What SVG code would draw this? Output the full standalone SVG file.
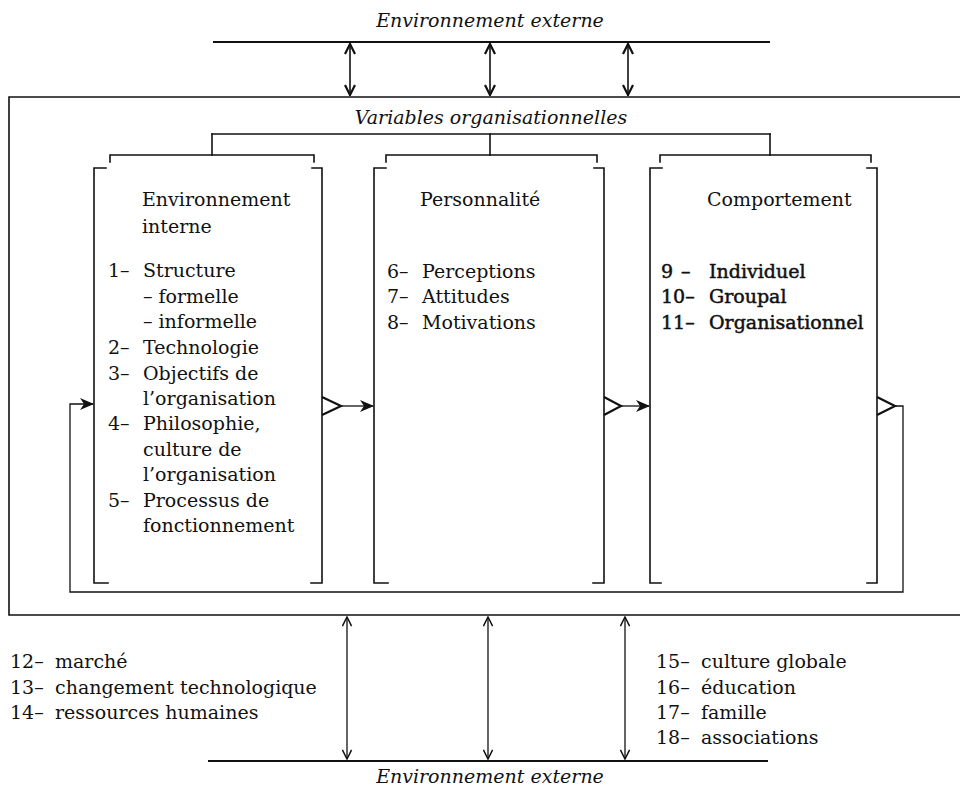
<svg xmlns="http://www.w3.org/2000/svg" width="960" height="786" viewBox="0 0 960 786">
<defs>
<style>
.ln{stroke:#111;stroke-width:1.6;fill:none;stroke-linecap:square}
.thk{stroke:#111;stroke-width:2.2;fill:none}
.thin{stroke:#111;stroke-width:1.3;fill:none}
.t{font-family:"DejaVu Serif","Liberation Serif",serif;font-size:19px;fill:#111}
.tb{font-family:"DejaVu Serif","Liberation Serif",serif;font-size:19px;fill:#111;stroke:#111;stroke-width:0.5}
.s{font-family:"DejaVu Serif","Liberation Serif",serif;font-size:19px;fill:#111}
.it{font-family:"DejaVu Serif","Liberation Serif",serif;font-size:19px;font-style:italic;fill:#111}
</style>
<marker id="ah" viewBox="0 0 12 12" refX="11" refY="6" markerWidth="12" markerHeight="12" markerUnits="userSpaceOnUse" orient="auto-start-reverse">
<path d="M1,1 L11,6 L1,11" fill="none" stroke="#111" stroke-width="2.2"/>
</marker>
<marker id="ahs" viewBox="0 0 12 12" refX="11" refY="6" markerWidth="11" markerHeight="11" markerUnits="userSpaceOnUse" orient="auto-start-reverse">
<path d="M1,1 L11,6 L1,11" fill="none" stroke="#111" stroke-width="1.6"/>
</marker>
<marker id="af" viewBox="0 0 14 12" refX="13" refY="6" markerWidth="14" markerHeight="12" markerUnits="userSpaceOnUse" orient="auto">
<path d="M0,0 L14,6 L0,12 L4,6 z" fill="#111"/>
</marker>
</defs>

<g id="env-externe-top">
<line class="thk" x1="213" y1="42" x2="770" y2="42"/>
<text class="it" x="490" y="27" text-anchor="middle">Environnement externe</text>
</g>

<g id="variables-organisationnelles">
<polyline class="ln" points="960,97 9,97 9,615 960,615"/>
<text class="it" x="491" y="124" text-anchor="middle">Variables organisationnelles</text>
</g>

<g id="env-interne">
<polyline class="ln" points="106,168 94,168 94,583 108,583"/>
<polyline class="ln" points="312,168 322,168 322,583 311,583"/>
<text class="t" x="142" y="206">Environnement</text>
<text class="t" x="142" y="233">interne</text>
<text class="t"><tspan x="108" y="277">1–</tspan><tspan x="143" y="277">Structure</tspan></text>
<text class="t" x="143" y="303">–  formelle</text>
<text class="t" x="143" y="328">–  informelle</text>
<text class="t"><tspan x="108" y="354">2–</tspan><tspan x="143" y="354">Technologie</tspan></text>
<text class="t"><tspan x="108" y="380">3–</tspan><tspan x="143" y="380">Objectifs de</tspan></text>
<text class="t" x="143" y="405">l’organisation</text>
<text class="t"><tspan x="108" y="430">4–</tspan><tspan x="143" y="430">Philosophie,</tspan></text>
<text class="t" x="143" y="456">culture de</text>
<text class="t" x="143" y="481">l’organisation</text>
<text class="t"><tspan x="108" y="507">5–</tspan><tspan x="143" y="507">Processus de</tspan></text>
<text class="t" x="143" y="532">fonctionnement</text>
</g>

<g id="personnalite">
<polyline class="ln" points="386,168 374,168 374,583 388,583"/>
<polyline class="ln" points="594,168 604,168 604,583 593,583"/>
<text class="t" x="420" y="206">Personnalité</text>
<text class="t"><tspan x="387" y="278">6–</tspan><tspan x="422" y="278">Perceptions</tspan></text>
<text class="t"><tspan x="387" y="303">7–</tspan><tspan x="422" y="303">Attitudes</tspan></text>
<text class="t"><tspan x="387" y="329">8–</tspan><tspan x="422" y="329">Motivations</tspan></text>
</g>

<g id="comportement">
<polyline class="ln" points="662,168 650,168 650,583 661,583"/>
<polyline class="ln" points="867,168 877,168 877,583 867,583"/>
<text class="t" x="707" y="206">Comportement</text>
<text class="tb"><tspan x="661" y="278">9</tspan><tspan x="681" y="278">–</tspan><tspan x="709" y="278">Individuel</tspan></text>
<text class="tb"><tspan x="661" y="303">10–</tspan><tspan x="709" y="303">Groupal</tspan></text>
<text class="tb"><tspan x="661" y="329">11–</tspan><tspan x="709" y="329">Organisationnel</tspan></text>
</g>

<g id="facteurs-externes-gauche">
<text class="s"><tspan x="10" y="668">12–</tspan><tspan x="55" y="668">marché</tspan></text>
<text class="s"><tspan x="10" y="694">13–</tspan><tspan x="55" y="694">changement technologique</tspan></text>
<text class="s"><tspan x="10" y="719">14–</tspan><tspan x="55" y="719">ressources humaines</tspan></text>
</g>

<g id="facteurs-externes-droite">
<text class="s"><tspan x="656" y="668">15–</tspan><tspan x="701" y="668">culture globale</tspan></text>
<text class="s"><tspan x="656" y="694">16–</tspan><tspan x="701" y="694">éducation</tspan></text>
<text class="s"><tspan x="656" y="719">17–</tspan><tspan x="701" y="719">famille</tspan></text>
<text class="s"><tspan x="656" y="744">18–</tspan><tspan x="701" y="744">associations</tspan></text>
</g>

<g id="env-externe-bottom">
<line class="thk" x1="208" y1="761" x2="768" y2="761"/>
<text class="it" x="490" y="783" text-anchor="middle">Environnement externe</text>
</g>

<g id="connectors">
<line class="ln" x1="350" y1="44" x2="350" y2="95" marker-start="url(#ah)" marker-end="url(#ah)"/>
<line class="ln" x1="490" y1="44" x2="490" y2="95" marker-start="url(#ah)" marker-end="url(#ah)"/>
<line class="ln" x1="628" y1="44" x2="628" y2="95" marker-start="url(#ah)" marker-end="url(#ah)"/>
<line class="ln" x1="212" y1="134" x2="770" y2="134"/>
<line class="ln" x1="212" y1="134" x2="212" y2="155"/>
<line class="ln" x1="490" y1="134" x2="490" y2="155"/>
<line class="ln" x1="770" y1="134" x2="770" y2="155"/>
<polyline class="ln" points="110,162 110,155 314,155 314,162"/>
<polyline class="ln" points="386,162 386,155 597,155 597,162"/>
<polyline class="ln" points="660,162 660,155 871,155 871,162"/>
<polyline class="thk" points="322,397 341,406 322,415"/>
<line class="thin" x1="341" y1="406" x2="373" y2="406" marker-end="url(#af)"/>
<polyline class="thk" points="604,397 621,406 604,415"/>
<line class="thin" x1="621" y1="406" x2="649" y2="406" marker-end="url(#af)"/>
<polyline class="thk" points="877,397 895,406 877,415"/>
<polyline class="thin" points="895,406 903,406 903,592 70,592 70,404 93,404" marker-end="url(#af)"/>
<line class="thin" x1="347" y1="617" x2="347" y2="759" marker-start="url(#ahs)" marker-end="url(#ahs)"/>
<line class="thin" x1="488" y1="617" x2="488" y2="759" marker-start="url(#ahs)" marker-end="url(#ahs)"/>
<line class="thin" x1="625" y1="617" x2="625" y2="759" marker-start="url(#ahs)" marker-end="url(#ahs)"/>
</g>
</svg>
